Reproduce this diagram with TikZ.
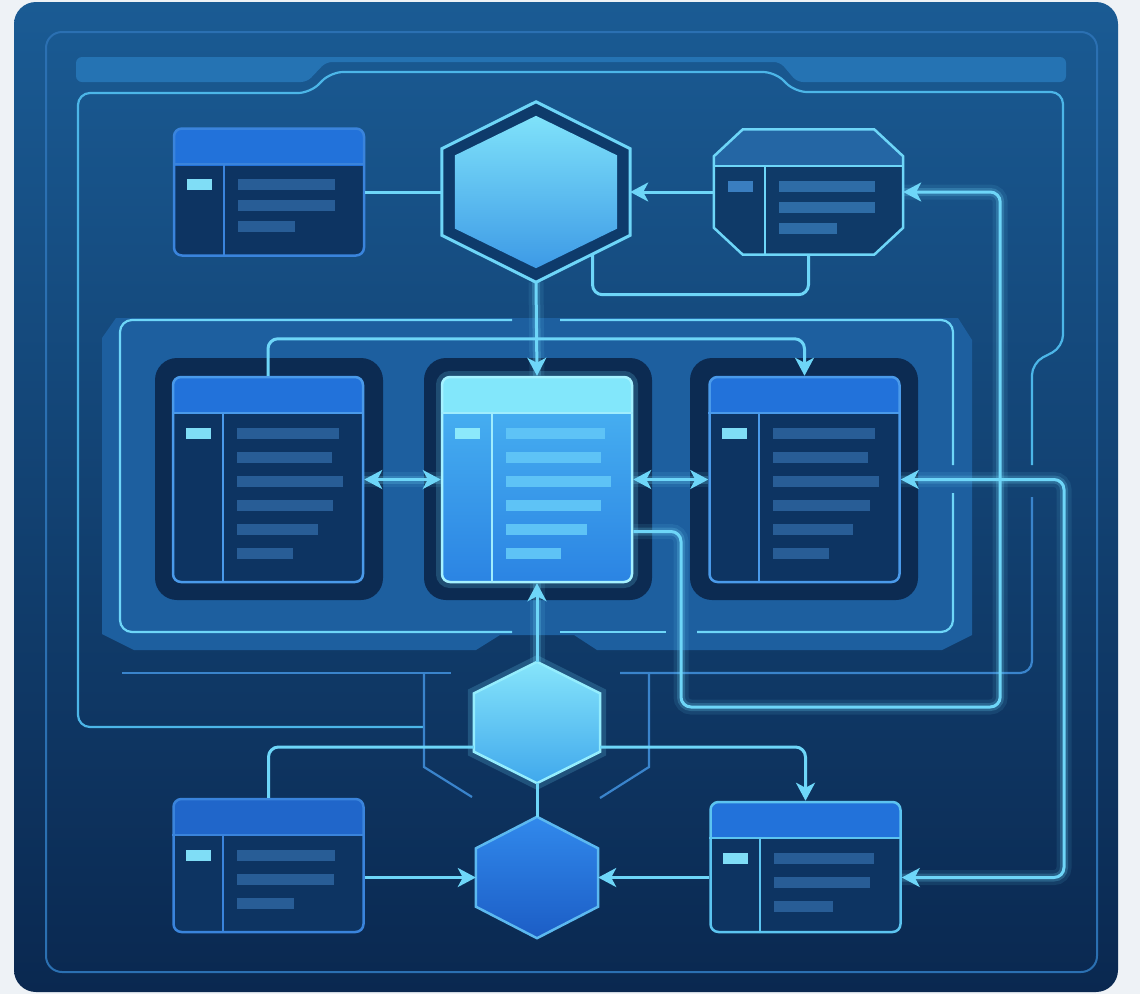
\documentclass[tikz,border=0pt]{standalone}
\usepackage{tikz}
\usetikzlibrary{arrows.meta,positioning,calc}
\usepackage{xcolor}

\definecolor{pagebg}{HTML}{EEF2F6}
\definecolor{paneltop}{HTML}{1A5B94}
\definecolor{panelbot}{HTML}{0A2850}
\definecolor{framec}{HTML}{2B70B2}
\definecolor{bandc}{HTML}{2573B3}
\definecolor{tracec}{HTML}{4CB6E8}
\definecolor{tracedim}{HTML}{3A84CC}
\definecolor{wirec}{HTML}{6ED6F8}
\definecolor{contfill}{HTML}{1D5F9F}
\definecolor{socketc}{HTML}{0C2B52}
\definecolor{bodyc}{HTML}{0D3462}
\definecolor{headc}{HTML}{2272DA}
\definecolor{headb}{HTML}{2066CA}
\definecolor{edgeA}{HTML}{3A84DC}
\definecolor{edgeB}{HTML}{4A9AEA}
\definecolor{edgeD}{HTML}{5CC4F0}
\definecolor{barc}{HTML}{285D96}
\definecolor{chipc}{HTML}{7FDDF6}
\definecolor{bodyo}{HTML}{0F3A68}
\definecolor{heado}{HTML}{2466A4}
\definecolor{baro}{HTML}{2E6CA6}
\definecolor{chipo}{HTML}{3A7EC0}
\definecolor{cedge}{HTML}{A6F2FF}
\definecolor{chead}{HTML}{82E7FB}
\definecolor{cbodytop}{HTML}{4BB6F3}
\definecolor{cbodybot}{HTML}{2B84E3}
\definecolor{cbar}{HTML}{5EC3F6}
\definecolor{cchip}{HTML}{8CE9FB}
\definecolor{cdiv}{HTML}{A0EDFD}
\definecolor{hexdark}{HTML}{0E3B6B}
\definecolor{hexTtop}{HTML}{7FE2FA}
\definecolor{hexTbot}{HTML}{3D9AE6}
\definecolor{hexMtop}{HTML}{86E5FB}
\definecolor{hexMbot}{HTML}{40A8EC}
\definecolor{hexMedge}{HTML}{94EDFD}
\definecolor{hexBtop}{HTML}{3189EC}
\definecolor{hexBbot}{HTML}{1C5DC5}
\definecolor{hexBedge}{HTML}{5CB9F0}

% hexagon round an (invisible) rectangular node
\newcommand{\hexpath}[1]{(#1.north) -- ($(#1.north east)!.26!(#1.south east)$) -- ($(#1.north east)!.74!(#1.south east)$) -- (#1.south) -- ($(#1.north west)!.74!(#1.south west)$) -- ($(#1.north west)!.26!(#1.south west)$) -- cycle}
% octagon (cut corners) round an (invisible) rectangular node
\newcommand{\octpath}[1]{($(#1.north west)+(29,0)$) -- ($(#1.north east)+(-29,0)$) -- ($(#1.north east)+(0,27)$) -- ($(#1.south east)+(0,-27)$) -- ($(#1.south east)+(-29,0)$) -- ($(#1.south west)+(29,0)$) -- ($(#1.south west)+(0,-27)$) -- ($(#1.north west)+(0,27)$) -- cycle}

% header rule, column rule, chip and text bars of a window
\newcommand{\winparts}[6]{%
  \draw[#6, line width=2pt] ($(#1.west |- #1.north)+(0,37)$) -- ($(#1.east |- #1.north)+(0,37)$);
  \draw[#6, line width=2pt] ($(#1.west |- #1.north)+(51,37)$) -- ($(#1.west |- #1.south)+(51,0)$);
  \fill[#5] ($(#1.west |- #1.north)+(14,52)$) rectangle ++(25,11);
  \foreach \w [count=\k from 0] in {#3}
    \fill[#4] ($(#1.west |- #1.north)+(65,{52+\k*#2})$) rectangle ++(\w,11);
}

\tikzset{
  winbox/.style={draw=#1, line width=2.5pt, rounded corners=8pt, minimum width=190pt, inner sep=0pt},
  winhead/.style={path picture={\fill[#1, sharp corners] (path picture bounding box.north west) rectangle ([yshift=-37pt]path picture bounding box.north east);}},
  hexbox/.style={inner sep=0pt, draw=none},
  wire/.style={draw=wirec, line width=3pt, rounded corners=10pt, line join=round},
  glow/.style={preaction={draw=wirec, line width=15pt, opacity=.10, -}, preaction={draw=wirec, line width=8pt, opacity=.22, -}},
  trace/.style={draw=#1, line width=2.2pt, rounded corners=12pt},
}

\begin{document}
\begin{tikzpicture}[x=1pt, y=-1pt, >={Stealth[length=18pt, width=19pt, inset=5pt]}]
    \useasboundingbox (0,0) rectangle (1140,994);

    % Page and panel
    \fill[pagebg] (0,0) rectangle (1140,994);
    \shade[top color=paneltop, bottom color=panelbot, rounded corners=22pt] (14,2) rectangle (1118,992);
    \draw[framec, line width=2pt, rounded corners=16pt] (46,32) rectangle (1097,972);

    % Top band
    \fill[bandc, rounded corners=6pt] (76,82) -- (76,57) -- (1066,57) -- (1066,82) -- (797,82) -- (780,62) -- (326,62) -- (307,82) -- cycle;

    % Circuit traces
    \draw[trace=tracec] (424,727) -- (78,727) -- (78,93) -- (310,93) -- (331,72) -- (775,72) -- (795,92) -- (1063,92) -- (1063,347) -- (1032,363) -- (1032,465);
    \draw[trace=tracedim] (1032,497) -- (1032,673) -- (620,673);
    \draw[trace=tracedim] (122,673) -- (451,673);
    \draw[trace=tracedim, sharp corners] (424,673) -- (424,767) -- (472,797);
    \draw[trace=tracedim, sharp corners] (649,673) -- (649,767) -- (600,798);

    % Middle container
    \fill[contfill] (116,318) -- (958,318) -- (972,340) -- (972,635) -- (942,650) -- (597,650) -- (574,635) -- (500,635) -- (476,650) -- (134,650) -- (102,634) -- (102,338) -- cycle;
    \draw[trace=wirec] (512,320) -- (120,320) -- (120,632) -- (512,632);
    \draw[trace=wirec] (560,632) -- (666,632);
    \draw[trace=wirec] (697,632) -- (953,632) -- (953,493);
    \draw[trace=wirec] (953,465) -- (953,320) -- (560,320);

    % Sockets
    \foreach \sx in {155,424,690}
        \fill[socketc, rounded corners=22pt] (\sx,358) rectangle ++(228,242);

    % Top row
    \node[winbox=edgeA, fill=bodyc, winhead=headc, minimum height=127pt] (boxTL) at (269,192) {};
    \winparts{boxTL}{21}{97,97,57}{barc}{chipc}{edgeA}
    \node[hexbox, minimum width=189pt, minimum height=125pt] (boxO) at (808.5,192) {};
    \draw[wirec, line width=2.5pt, fill=bodyo, winhead=heado] \octpath{boxO};
    \winparts{boxO}{21}{96,96,58}{baro}{chipo}{wirec}
    \node[hexbox, minimum width=188pt, minimum height=180pt] (hexT) at (536,192) {};
    \node[hexbox, minimum width=162pt, minimum height=152pt] (hexTin) at (536,192) {};

    % Middle row
    \node[winbox=edgeB, fill=bodyc, winhead=headc, minimum height=205pt] (boxL) at (268,479.5) {};
    \winparts{boxL}{24}{102,95,106,96,81,56}{barc}{chipc}{edgeB}
    \node[winbox=cedge, top color=cbodytop, bottom color=cbodybot, winhead=chead, minimum height=205pt, preaction={draw=wirec, line width=12pt, opacity=.2}] (boxC) at (537,479.5) {};
    \winparts{boxC}{24}{99,95,105,95,81,55}{cbar}{cchip}{cdiv}
    \node[winbox=edgeB, fill=bodyc, winhead=headc, minimum height=205pt] (boxR) at (804.5,479.5) {};
    \winparts{boxR}{24}{102,95,106,97,80,56}{barc}{chipc}{edgeB}

    % Bottom row
    \node[hexbox, minimum width=126pt, minimum height=121pt] (hexM) at (537,722.5) {};
    \node[hexbox, minimum width=122pt, minimum height=121pt] (hexB) at (537,877.5) {};
    \node[winbox=edgeA, fill=bodyc, winhead=headb, minimum height=133pt] (boxBL) at (268.5,865.5) {};
    \winparts{boxBL}{24}{98,97,57}{barc}{chipc}{edgeA}
    \node[winbox=edgeD, fill=bodyc, winhead=headc, minimum height=130pt] (boxBR) at (805.5,867) {};
    \winparts{boxBR}{24}{100,96,59}{barc}{chipc}{edgeD}

    % Hexagons
    \fill[hexdark] \hexpath{hexT};
    \draw[wirec, line width=3pt] \hexpath{hexT};
    \shade[top color=hexTtop, bottom color=hexTbot] \hexpath{hexTin};
    \draw[hexMedge, line width=2.5pt, top color=hexMtop, bottom color=hexMbot, preaction={draw=wirec, line width=12pt, opacity=.2}] \hexpath{hexM};
    \draw[hexBedge, line width=2.5pt, top color=hexBtop, bottom color=hexBbot] \hexpath{hexB};

    % Connectors, top
    \coordinate (hexTlr) at ($(hexT.north east)!.74!(hexT.south east)$);
    \coordinate (hexTtap) at ($(hexT.south)!.6!(hexTlr)$);
    \draw[wire] (boxTL.east) -- (hexT.west);
    \draw[wire, ->] (boxO.west) -- (hexT.east);
    \draw[wire] (hexTtap) |- ([yshift=-40pt]boxO.south) -- (boxO.south);
    \draw[wire, glow, ->] (hexT.south) -- (boxC.north);

    % Connectors, middle
    \draw[wire, ->] (boxL.north) -- ++(0,-37) -| (boxR.north);
    \draw[wire, glow, <->] (boxL.east) -- (boxC.west);
    \draw[wire, glow, <->] (boxC.east) -- (boxR.west);
    \coordinate (cTap) at ([yshift=-52pt]boxC.east);
    \draw[wire, glow, ->] (cTap) -| (681,707) -| ($(boxO.east)+(97,0)$) -- (boxO.east);
    \draw[wire, glow, <->] (boxR.east) -- (1064,479.5) |- (boxBR.east |- hexB.east);

    % Connectors, bottom
    \draw[wire, glow, ->] (hexM.north) -- (boxC.south);
    \draw[wire] (hexM.south) -- (hexB.north);
    \draw[wire] (boxBL.north) |- ([yshift=-24.5pt]hexM.west);
    \draw[wire, ->] ([yshift=-24.5pt]hexM.east) -| (boxBR.north);
    \draw[wire, ->] (boxBL.east |- hexB.west) -- (hexB.west);
    \draw[wire, ->] (boxBR.west |- hexB.east) -- (hexB.east);
\end{tikzpicture}
\end{document}
